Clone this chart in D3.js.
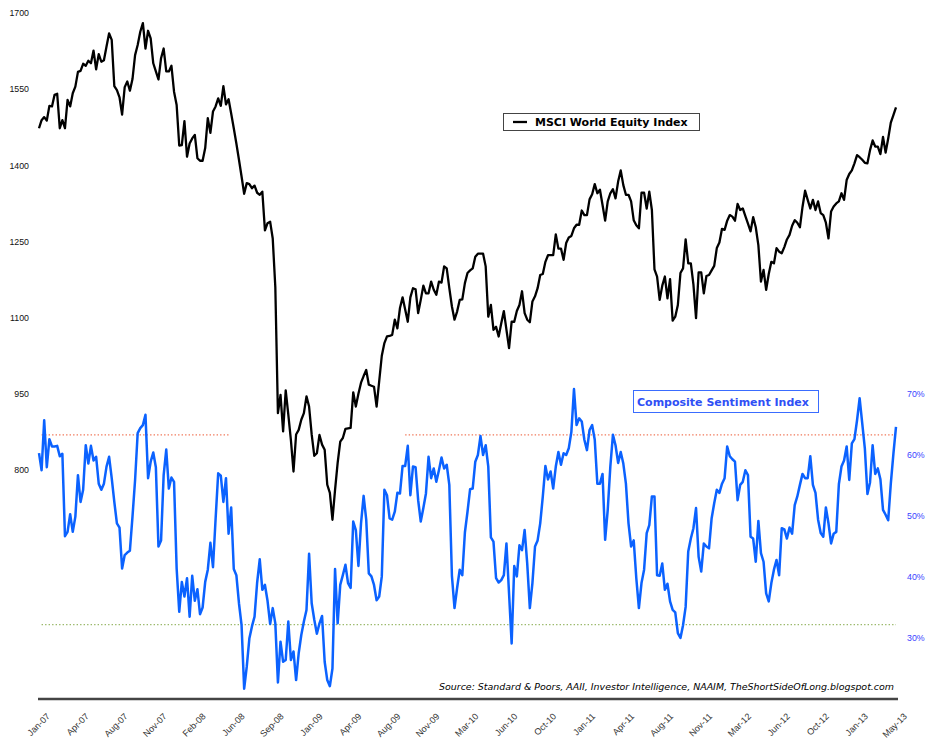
<!DOCTYPE html>
<html>
<head>
<meta charset="utf-8">
<script src="https://cdn.jsdelivr.net/npm/d3@7"></script>
<style>
  body { margin: 0; background: #fff; }
  svg { display: block; }
</style>
</head>
<body>
<div id="chart"></div>
<script>
'use strict'

// weekly data, Jan-07 .. May-13 (331 weeks), label every 15 weeks
let xLabels = ['Jan-07','Apr-07','Aug-07','Nov-07','Feb-08','Jun-08','Sep-08','Jan-09','Apr-09','Aug-09','Nov-09','Mar-10',
  'Jun-10','Oct-10','Jan-11','Apr-11','Aug-11','Nov-11','Mar-12','Jun-12','Oct-12','Jan-13','May-13'];
let leftTicks = [800, 950, 1100, 1250, 1400, 1550, 1700];
let rightTicks = [30, 40, 50, 60, 70];

let msci = [
  1473,1489,1495,1488,1517,1516,1539,1541,1473,1489,
  1473,1529,1516,1542,1555,1584,1586,1600,1596,1606,
  1601,1626,1589,1619,1604,1607,1634,1660,1647,1556,
  1548,1534,1500,1554,1565,1547,1570,1617,1637,1663,
  1680,1630,1665,1650,1601,1585,1569,1611,1630,1585,
  1585,1596,1545,1519,1439,1440,1487,1417,1443,1453,
  1460,1414,1409,1409,1434,1493,1464,1506,1516,1532,
  1517,1556,1520,1530,1502,1473,1443,1411,1378,1344,
  1365,1363,1355,1360,1346,1342,1348,1272,1286,1289,
  1256,1160,912,948,876,957,909,859,797,870,
  879,899,912,945,925,870,828,833,869,850,
  840,771,755,702,761,814,856,863,881,882,
  883,953,925,950,972,985,997,968,966,964,
  925,975,1025,1050,1063,1064,1066,1096,1079,1119,
  1140,1116,1092,1140,1158,1156,1109,1135,1163,1148,
  1148,1171,1155,1145,1171,1169,1201,1197,1158,1122,
  1096,1112,1135,1136,1168,1188,1193,1197,1220,1226,
  1226,1226,1201,1102,1125,1076,1082,1063,1089,1113,
  1076,1040,1092,1092,1113,1125,1152,1109,1096,1091,
  1132,1142,1158,1184,1186,1210,1223,1223,1223,1264,
  1236,1236,1214,1247,1258,1261,1276,1283,1283,1311,
  1302,1302,1333,1343,1363,1345,1352,1322,1291,1329,
  1345,1353,1335,1368,1390,1361,1342,1342,1329,1292,
  1282,1276,1346,1346,1315,1348,1312,1195,1181,1135,
  1163,1181,1138,1176,1094,1102,1125,1188,1197,1254,
  1207,1207,1165,1099,1189,1189,1148,1182,1184,1193,
  1202,1237,1248,1275,1273,1291,1302,1299,1291,1324,
  1312,1315,1300,1285,1270,1298,1278,1243,1171,1194,
  1155,1186,1210,1207,1237,1230,1227,1239,1254,1263,
  1281,1292,1287,1278,1318,1350,1332,1315,1332,1312,
  1329,1306,1302,1287,1256,1309,1319,1325,1329,1345,
  1332,1371,1383,1390,1404,1420,1416,1411,1405,1404,
  1430,1449,1437,1437,1422,1456,1425,1453,1484,1499,1514
];

let sentiment = [
  60.3,57.5,65.7,58.0,62.6,61.4,61.4,61.5,59.8,60.2,
  46.7,47.4,50.3,47.4,49.9,56.7,52.3,54.3,61.6,58.6,
  61.5,59.1,59.7,55.3,54.3,55.3,58.1,59.7,56.2,52.3,
  48.8,48.1,41.4,43.6,44.0,44.3,49.9,55.9,63.6,64.4,
  64.9,66.6,56.2,58.9,60.4,58.0,45.0,46.0,56.7,60.9,
  54.5,56.3,55.6,41.4,34.3,39.2,36.8,39.8,33.5,40.2,
  36.1,38.0,33.9,35.0,39.2,41.2,45.6,41.6,49.5,57.0,
  56.6,52.3,56.2,47.1,51.4,41.3,40.3,35.7,32.1,21.7,
  25.3,29.9,31.9,33.5,39.1,42.9,37.9,38.7,36.1,32.3,
  34.9,32.4,22.7,29.4,26.1,26.4,32.7,26.4,27.8,23.1,
  27.5,30.5,32.7,34.6,43.8,35.7,33.0,30.7,32.4,33.6,
  26.1,23.1,22.1,25.0,41.3,32.4,38.7,40.3,42.0,39.0,
  38.2,49.1,47.7,41.8,48.8,53.3,49.4,40.6,40.1,38.7,
  36.2,36.8,40.1,54.3,53.4,49.6,49.4,50.7,53.8,53.7,
  58.2,58.2,61.5,53.4,58.1,58.0,52.6,49.1,51.3,53.7,
  59.7,56.2,57.8,55.6,57.5,59.6,57.8,58.4,55.1,40.2,
  34.9,38.2,41.2,40.3,47.3,50.7,54.4,54.5,58.9,60.0,
  63.1,60.0,61.6,58.1,46.5,45.8,39.8,39.1,39.5,40.3,
  45.5,37.3,29.1,41.8,40.1,45.2,44.4,47.7,42.2,34.9,
  39.0,45.0,46.0,48.8,53.2,58.2,56.0,57.3,54.5,58.1,
  60.5,58.4,60.3,60.0,61.1,63.8,70.8,64.9,66.0,65.5,
  62.5,60.8,64.1,64.9,62.5,55.3,55.3,56.9,46.1,51.0,
  58.1,63.3,61.6,58.7,60.5,58.6,55.3,48.8,45.0,46.0,
  39.8,34.9,39.0,41.2,47.2,48.5,53.2,53.2,40.3,40.2,
  42.2,37.9,38.9,36.0,34.6,34.2,30.8,30.0,32.1,35.1,
  44.2,46.3,48.0,51.3,43.3,40.9,45.5,45.0,44.7,49.6,
  52.1,54.3,53.8,55.3,56.2,61.4,59.8,59.3,58.9,52.6,
  55.1,55.6,57.5,56.7,46.6,46.3,42.5,49.2,43.9,42.5,
  37.3,36.0,39.0,41.2,42.8,40.3,48.0,47.8,46.3,48.1,
  47.1,51.8,53.2,55.1,56.9,56.2,56.2,59.8,55.1,53.8,
  49.4,47.2,46.6,51.4,48.8,45.5,47.1,47.4,55.2,58.1,
  59.1,61.4,55.9,61.9,62.6,65.7,69.3,65.2,61.1,53.6,
  55.5,61.6,56.9,57.8,56.0,51.0,50.2,49.3,55.3,60.2,64.6
];

// dotted guide levels (week ranges where drawn)
let highLevel = 63.3, highRanges = [[1, 73], [141, 330]];
let lowLevel = 32.2, lowRanges = [[1, 330]];

let width = 940, height = 744;
let blue = '#0b62ff';

let svg = d3.select('#chart').append('svg')
  .attr('width', width)
  .attr('height', height)
  .style('font-family', '"DejaVu Sans", Verdana, sans-serif');

let x = d3.scaleLinear().domain([0, msci.length - 1]).range([39, 896]);
let yL = d3.scaleLinear().domain([800, 1700]).range([470, 13]);
let yR = d3.scaleLinear().domain([30, 70]).range([638, 394]);

// ######### axes #########
let leftAxis = svg.append('g')
  .attr('transform', 'translate(29,0)')
  .call(d3.axisLeft(yL).tickValues(leftTicks).tickSize(0).tickPadding(0).tickFormat(d3.format('d')));
leftAxis.select('.domain').remove();
leftAxis.selectAll('text').attr('font-size', 8.8).attr('fill', '#111').attr('font-family', null);

let rightAxis = svg.append('g')
  .attr('transform', 'translate(907,0)')
  .call(d3.axisRight(yR).tickValues(rightTicks).tickSize(0).tickPadding(0).tickFormat(function(d) { return d + '%'; }));
rightAxis.select('.domain').remove();
rightAxis.selectAll('text').attr('font-size', 8.8).attr('fill', '#3a44ff').attr('font-family', null);

let bottomAxis = svg.append('g')
  .attr('transform', 'translate(0,699)')
  .call(d3.axisBottom(x).tickValues(d3.range(0, msci.length, 15)).tickSize(0)
    .tickFormat(function(d, i) { return xLabels[i]; }));
bottomAxis.select('.domain').remove();
bottomAxis.selectAll('text')
  .attr('font-size', 9)
  .attr('font-family', null)
  .attr('fill', '#333')
  .attr('text-anchor', 'end')
  .attr('y', 0)
  .attr('dy', 0)
  .attr('transform', 'translate(11,18) rotate(-45)');

svg.append('line')
  .attr('x1', 38).attr('x2', 898)
  .attr('y1', 699).attr('y2', 699)
  .attr('stroke', '#444')
  .attr('stroke-width', 2.4);

// ######### dotted guides #########
function guide(ranges, level, color) {
  svg.selectAll(null)
    .data(ranges)
    .enter().append('line')
    .attr('x1', function(d) { return x(d[0]); })
    .attr('x2', function(d) { return x(d[1]); })
    .attr('y1', yR(level)).attr('y2', yR(level))
    .attr('stroke', color)
    .attr('stroke-width', 1.4)
    .attr('stroke-dasharray', '1.4,2.1');
}
guide(highRanges, highLevel, '#f0785a');
guide(lowRanges, lowLevel, '#9ab86a');

// ######### lines #########
svg.append('path')
  .datum(sentiment)
  .attr('fill', 'none')
  .attr('stroke', blue)
  .attr('stroke-width', 2.5)
  .attr('stroke-linejoin', 'round')
  .attr('d', d3.line().x(function(d, i) { return x(i); }).y(function(d) { return yR(d); }));

svg.append('path')
  .datum(msci)
  .attr('fill', 'none')
  .attr('stroke', '#000')
  .attr('stroke-width', 2.3)
  .attr('stroke-linejoin', 'round')
  .attr('d', d3.line().x(function(d, i) { return x(i); }).y(function(d) { return yL(d); }));

// ######### legends #########
let leg1 = svg.append('g');
leg1.append('rect')
  .attr('x', 503.5).attr('y', 113.5).attr('width', 196).attr('height', 17)
  .attr('fill', '#fff').attr('stroke', '#444').attr('stroke-width', 1);
leg1.append('line')
  .attr('x1', 513).attr('x2', 527).attr('y1', 122).attr('y2', 122)
  .attr('stroke', '#000').attr('stroke-width', 2.3);
leg1.append('text')
  .attr('x', 535).attr('y', 126)
  .attr('font-size', 11).attr('font-weight', 'bold').attr('fill', '#000')
  .text('MSCI World Equity Index');

let leg2 = svg.append('g');
leg2.append('rect')
  .attr('x', 633.5).attr('y', 390.5).attr('width', 185).attr('height', 22)
  .attr('fill', '#fff').attr('stroke', '#3a6cff').attr('stroke-width', 1);
leg2.append('text')
  .attr('x', 637).attr('y', 405.5)
  .attr('font-size', 11).attr('font-weight', 'bold').attr('fill', '#2f4ff5')
  .text('Composite Sentiment Index');

svg.append('text')
  .attr('x', 894).attr('y', 690)
  .attr('text-anchor', 'end')
  .attr('font-size', 9.45).attr('font-style', 'italic').attr('fill', '#000')
  .text('Source: Standard & Poors, AAII, Investor Intelligence, NAAIM, TheShortSideOfLong.blogspot.com');
</script>
</body>
</html>
